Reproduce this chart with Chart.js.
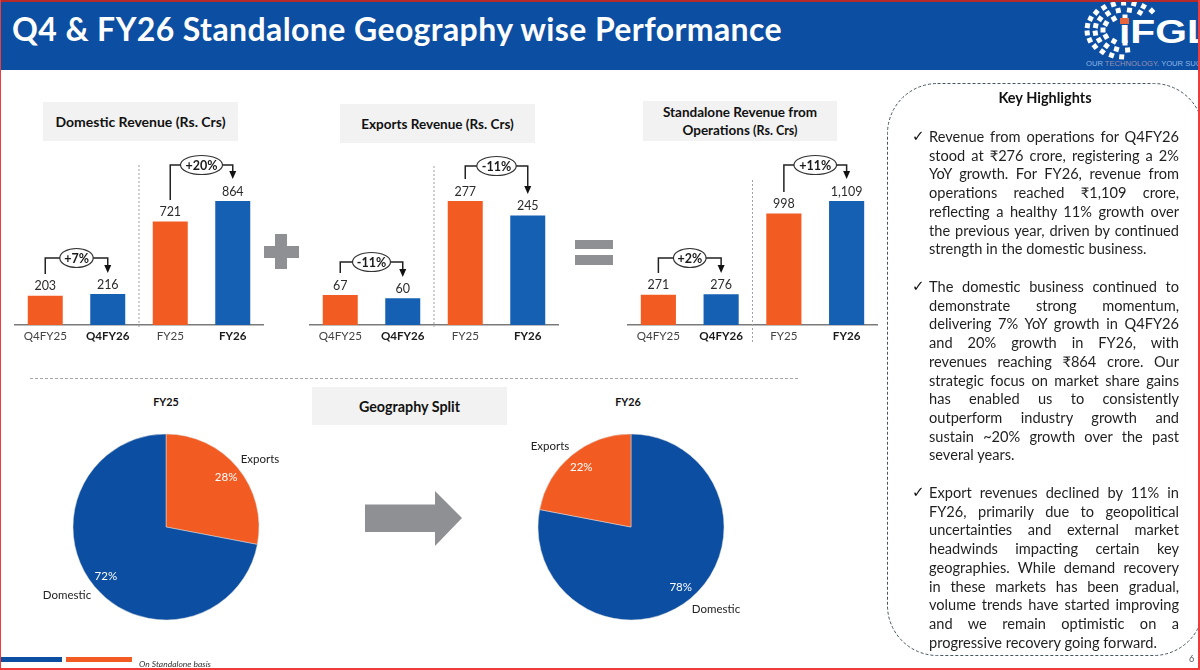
<!DOCTYPE html>
<html lang="en">
<head>
<meta charset="UTF-8">
<title>Q4 & FY26 Standalone Geography wise Performance</title>
<script src="https://cdn.jsdelivr.net/npm/chart.js"></script>
<style>
    html, body { margin: 0; padding: 0; background: #fff; }
    #slide { position: relative; width: 1200px; height: 670px; overflow: hidden; background: #fff; font-family: Lato, sans-serif; color: #1a1a1a; }
    #slide > * { position: absolute; }
    canvas { display: block; }
    .header { left: 0; top: 0; width: 1200px; height: 70px; background: #0b4ea2; }
    .title { left: 12px; top: 9px; color: #fff; font-weight: 700; font-size: 32px; letter-spacing: 0.4px; line-height: 40px; white-space: nowrap; }
    .box { background: #f2f2f2; display: flex; flex-direction: column; align-items: center; justify-content: center; font-weight: 700; text-align: center; color: #111; }
    .grey { background: #8f9093; }
    .pie-title { font-weight: 700; font-size: 10.8px; width: 80px; text-align: center; color: #111; }
    .line { left: 929px; width: 250px; font-size: 14.6px; line-height: 18px; height: 18px; text-align: justify; text-align-last: justify; white-space: nowrap; color: #1f1f1f; }
    .line.last { text-align-last: left; }
    .tick { left: 912px; font-family: "DejaVu Sans", sans-serif; font-size: 15px; line-height: 18px; color: #111; }
    .edge { background: #ee3b3b; }
</style>
</head>
<body>
<div id="slide">
    <div class="header"></div>
    <div class="title">Q4 &amp; FY26 Standalone Geography wise Performance</div>
    <svg id="logo" style="left:1060px;top:0" width="140" height="70"></svg>

    <div class="box" style="left:43px;top:102px;width:195px;height:39px;font-size:14px">Domestic Revenue (Rs. Crs)</div>
    <div class="box" style="left:340px;top:104px;width:195px;height:39px;font-size:13.5px">Exports Revenue (Rs. Crs)</div>
    <div class="box" style="left:643px;top:101px;width:194px;height:40px;font-size:13.5px;line-height:18px">
        <div>Standalone Revenue from</div><div>Operations <span style="font-size:12.5px">(Rs. Crs)</span></div>
    </div>

    <canvas id="domesticChart" width="250" height="225" style="left:14px;top:130px"></canvas>
    <canvas id="exportsChart" width="250" height="225" style="left:309px;top:130px"></canvas>
    <canvas id="standaloneChart" width="251" height="225" style="left:627px;top:130px"></canvas>

    <div class="grey" style="left:264px;top:246px;width:35px;height:12px"></div>
    <div class="grey" style="left:275px;top:234px;width:12px;height:35px"></div>
    <div class="grey" style="left:575px;top:240px;width:38px;height:9px"></div>
    <div class="grey" style="left:575px;top:255px;width:38px;height:10px"></div>

    <div style="left:30px;top:378px;width:768px;border-top:1px dashed #a6a6a6"></div>
    <div class="box" style="left:312px;top:387px;width:195px;height:38px;font-size:14.3px">Geography Split</div>
    <div class="pie-title" style="left:126px;top:395px">FY25</div>
    <div class="pie-title" style="left:588px;top:395px">FY26</div>
    <canvas id="pieFY25" width="280" height="230" style="left:26px;top:412px"></canvas>
    <canvas id="pieFY26" width="280" height="230" style="left:491px;top:412px"></canvas>
    <div class="grey" style="left:365px;top:491px;width:97px;height:55px;clip-path:polygon(0 13.5px,70px 13.5px,70px 0,97px 27px,70px 55px,70px 41px,0 41px)"></div>

    <svg style="left:0;top:0" width="1200" height="670">
        <rect x="887.5" y="83.5" width="316" height="572" rx="50" ry="50" fill="none" stroke="#44565f" stroke-width="1" stroke-dasharray="3 2"></rect>
    </svg>
    <div style="left:945px;top:89px;width:200px;text-align:center;font-weight:700;font-size:14.5px;line-height:18px;color:#111">Key Highlights</div>
    <div id="highlights" style="left:0;top:0"></div>

    <div style="left:0;top:657px;width:62px;height:5px;background:#0b4ea2"></div>
    <div style="left:66px;top:657px;width:66px;height:5px;background:#f25c22"></div>
    <div style="left:139px;top:658px;font-style:italic;font-size:8.5px;line-height:12px;color:#333">On Standalone basis</div>
    <div style="left:1189px;top:653px;font-size:9px;line-height:12px;color:#555">6</div>

    <div style="left:0;top:0;width:1200px;height:2px;background:#b52a2a"></div>
    <div class="edge" style="left:0;top:0;width:1px;height:670px"></div>
    <div class="edge" style="left:1198px;top:0;width:2px;height:670px"></div>
    <div class="edge" style="left:0;top:668px;width:1200px;height:2px"></div>
</div>
<script>
    // data
    const barCategories = ['Q4FY25', 'Q4FY26', 'FY25', 'FY26'];
    const domesticValues = [203, 216, 721, 864];
    const exportValues = [67, 60, 277, 245];
    const standaloneValues = [271, 276, 998, 1109];
    const domesticGrowth = ['+7%', '+20%'];
    const exportGrowth = ['-11%', '-11%'];
    const standaloneGrowth = ['+2%', '+11%'];
    const pieFY25Categories = ['Exports', 'Domestic'];
    const pieFY25Values = [28, 72];
    const pieFY26Categories = ['Domestic', 'Exports'];
    const pieFY26Values = [78, 22];

    const highlightParagraphs = [
        ['Revenue from operations for Q4FY26', 'stood at ₹276 crore, registering a 2%', 'YoY growth. For FY26, revenue from',
         'operations reached ₹1,109 crore,', 'reflecting a healthy 11% growth over', 'the previous year, driven by continued',
         'strength in the domestic business.'],
        ['The domestic business continued to', 'demonstrate strong momentum,', 'delivering 7% YoY growth in Q4FY26',
         'and 20% growth in FY26, with', 'revenues reaching ₹864 crore. Our', 'strategic focus on market share gains',
         'has enabled us to consistently', 'outperform industry growth and', 'sustain ~20% growth over the past', 'several years.'],
        ['Export revenues declined by 11% in', 'FY26, primarily due to geopolitical', 'uncertainties and external market',
         'headwinds impacting certain key', 'geographies. While demand recovery', 'in these markets has been gradual,',
         'volume trends have started improving', 'and we remain optimistic on a', 'progressive recovery going forward.']
    ];

    const ORANGE = '#f25c22', BAR_BLUE = '#1560b2', PIE_BLUE = '#0b4ea2', FONT = 'Lato, sans-serif';

    // value labels, divider and the growth brackets
    const barNotes = {
        id: 'barNotes',
        afterDatasetsDraw(chart, args, opts) {
            const c = chart.ctx, x = chart.scales.x, y = chart.scales.y;
            c.save();
            c.textAlign = 'center';
            c.textBaseline = 'middle';
            c.font = '12.5px ' + FONT;
            c.fillStyle = '#2b2b2b';
            chart.data.datasets[0].data.forEach((v, i) => {
                c.fillText(v.toLocaleString('en-US'), x.getPixelForValue(i), y.getPixelForValue(v) - 9.5);
            });

            const mid = (x.getPixelForValue(1) + x.getPixelForValue(2)) / 2;
            c.strokeStyle = '#a0a0a0';
            c.lineWidth = 1;
            c.setLineDash([2, 2]);
            c.beginPath();
            c.moveTo(mid, opts.divider[0]);
            c.lineTo(mid, opts.divider[1]);
            c.stroke();
            c.setLineDash([]);

            opts.brackets.forEach((b, n) => {
                const x0 = x.getPixelForValue(n * 2), x1 = x.getPixelForValue(n * 2 + 1);
                const cx = (x0 + x1) / 2;
                c.strokeStyle = '#222';
                c.lineWidth = 1.5;
                c.beginPath();
                c.moveTo(x0, b.start);
                c.lineTo(x0, b.top);
                c.lineTo(x1, b.top);
                c.lineTo(x1, b.tip - 6);
                c.stroke();
                c.fillStyle = '#111';
                c.beginPath();
                c.moveTo(x1 - 3.5, b.tip - 8);
                c.lineTo(x1 + 3.5, b.tip - 8);
                c.lineTo(x1, b.tip);
                c.closePath();
                c.fill();
                c.fillStyle = '#fff';
                c.strokeStyle = '#333';
                c.lineWidth = 1.2;
                c.beginPath();
                c.ellipse(cx, b.top, b.rx, 9.5, 0, 0, Math.PI * 2);
                c.fill();
                c.stroke();
                c.fillStyle = '#1a1a1a';
                c.font = '700 12.5px ' + FONT;
                c.fillText(opts.growth[n], cx, b.top + 0.5);
            });
            c.restore();
        }
    };

    function makeBarChart(id, values, maxValue, growth, divider, brackets) {
        new Chart(document.getElementById(id), {
            type: 'bar',
            data: {
                labels: barCategories,
                datasets: [{
                    data: values,
                    backgroundColor: [ORANGE, BAR_BLUE, ORANGE, BAR_BLUE],
                    barPercentage: 1,
                    categoryPercentage: 0.56
                }]
            },
            options: {
                responsive: false,
                animation: false,
                layout: { padding: 0 },
                plugins: {
                    legend: { display: false },
                    tooltip: { enabled: false },
                    barNotes: { growth: growth, divider: divider, brackets: brackets }
                },
                scales: {
                    x: {
                        afterFit: (s) => { s.height = 30; },
                        grid: { display: false, drawTicks: false },
                        border: { color: '#7a7a7a', width: 1.5 },
                        ticks: {
                            padding: 4,
                            maxRotation: 0,
                            color: (ctx) => ctx.index % 2 ? '#1a1a1a' : '#444',
                            font: (ctx) => ({ family: FONT, size: 11.6, weight: ctx.index % 2 ? '700' : '400' })
                        }
                    },
                    y: { display: false, min: 0, max: maxValue }
                }
            },
            plugins: [barNotes]
        });
    }

    // canvas sits at y=130, so these are y-130 in slide pixels
    makeBarChart('domesticChart', domesticValues, 1359, domesticGrowth, [35, 197], [
        { start: 144, top: 128, tip: 143, rx: 16.7 },
        { start: 70, top: 35, tip: 49, rx: 21 }
    ]);
    makeBarChart('exportsChart', exportValues, 436, exportGrowth, [36, 197], [
        { start: 143, top: 132, tip: 147, rx: 19 },
        { start: 49, top: 36, tip: 64, rx: 19.7 }
    ]);
    makeBarChart('standaloneChart', standaloneValues, 1744, standaloneGrowth, [50, 213], [
        { start: 143, top: 128, tip: 143, rx: 16.3 },
        { start: 62, top: 35, tip: 49, rx: 21.3 }
    ]);

    // percent inside the slice, category name next to the rim
    const pieNotes = {
        id: 'pieNotes',
        afterDatasetsDraw(chart, args, opts) {
            const c = chart.ctx;
            c.save();
            c.textAlign = 'center';
            c.textBaseline = 'middle';
            chart.getDatasetMeta(0).data.forEach((arc, i) => {
                const mid = (arc.startAngle + arc.endAngle) / 2;
                c.font = '11.5px ' + FONT;
                c.fillStyle = '#fff';
                c.fillText(chart.data.datasets[0].data[i] + '%', arc.x + Math.cos(mid) * 78, arc.y + Math.sin(mid) * 78);
                c.fillStyle = '#222';
                c.fillText(chart.data.labels[i], arc.x + opts.names[i][0], arc.y + opts.names[i][1]);
            });
            c.restore();
        }
    };

    function makePie(id, categories, values, colors, names) {
        new Chart(document.getElementById(id), {
            type: 'pie',
            data: {
                labels: categories,
                datasets: [{ data: values, backgroundColor: colors, borderWidth: 0.5, borderColor: '#ddd', radius: 93 }]
            },
            options: {
                responsive: false,
                animation: false,
                plugins: {
                    legend: { display: false },
                    tooltip: { enabled: false },
                    pieNotes: { names: names }
                }
            },
            plugins: [pieNotes]
        });
    }

    makePie('pieFY25', pieFY25Categories, pieFY25Values, [ORANGE, PIE_BLUE], [[94, -68], [-99, 68]]);
    makePie('pieFY26', pieFY26Categories, pieFY26Values, [PIE_BLUE, ORANGE], [[85, 82], [-81, -81]]);

    // key highlights, one element per line so breaks stay as on the slide
    const highlightsEl = document.getElementById('highlights');
    const paragraphTops = [128, 278, 484];
    highlightParagraphs.forEach((lines, p) => {
        const tick = document.createElement('div');
        tick.className = 'tick';
        tick.style.position = 'absolute';
        tick.style.top = (paragraphTops[p] - 1) + 'px';
        tick.textContent = '✓';
        highlightsEl.appendChild(tick);
        lines.forEach((text, i) => {
            const el = document.createElement('div');
            el.className = 'line' + (i === lines.length - 1 ? ' last' : '');
            el.style.position = 'absolute';
            el.style.top = (paragraphTops[p] + i * 18.72) + 'px';
            el.textContent = text;
            highlightsEl.appendChild(el);
        });
    });

    // logo: flattened rings of small squares, then the wordmark
    const logo = document.getElementById('logo');
    const SVGNS = 'http://www.w3.org/2000/svg';
    [[38, 27, 45, 265, 15], [30, 20, 60, 275, 11], [22, 13, 90, 270, 7]].forEach(([rx, ry, a0, a1, n]) => {
        for (let i = 0; i < n; i++) {
            const deg = a0 + (a1 - a0) * i / (n - 1);
            const a = deg * Math.PI / 180;
            const x = 65 + Math.cos(a) * rx;
            const y = 30 - Math.sin(a) * ry;
            const s = document.createElementNS(SVGNS, 'rect');
            s.setAttribute('x', x - 2.5);
            s.setAttribute('y', y - 2.5);
            s.setAttribute('width', 5);
            s.setAttribute('height', 5);
            s.setAttribute('fill', '#fff');
            s.setAttribute('transform', 'rotate(' + (-deg) + ' ' + x + ' ' + y + ')');
            logo.appendChild(s);
        }
    });
    const word = document.createElementNS(SVGNS, 'text');
    word.setAttribute('transform', 'translate(59,43) scale(1.2,1)');
    word.setAttribute('fill', '#fff');
    word.setAttribute('font-family', 'Liberation Sans');
    word.setAttribute('font-weight', '700');
    word.setAttribute('font-size', '34');
    word.textContent = 'iFGL';
    logo.appendChild(word);
    const dot = document.createElementNS(SVGNS, 'rect');
    dot.setAttribute('x', 60);
    dot.setAttribute('y', 18);
    dot.setAttribute('width', 9);
    dot.setAttribute('height', 6);
    dot.setAttribute('fill', '#e8663a');
    logo.appendChild(dot);
    const tag = document.createElementNS(SVGNS, 'text');
    tag.setAttribute('x', 26);
    tag.setAttribute('y', 66);
    tag.setAttribute('font-family', 'Liberation Sans');
    tag.setAttribute('font-size', '7.6');
    tag.innerHTML = '<tspan fill="#8fb6e2">OUR </tspan><tspan fill="#9a93b4">TECHNOLOGY</tspan><tspan fill="#8fb6e2">. YOUR SUCCESS.</tspan>';
    logo.appendChild(tag);
</script>
</body>
</html>
